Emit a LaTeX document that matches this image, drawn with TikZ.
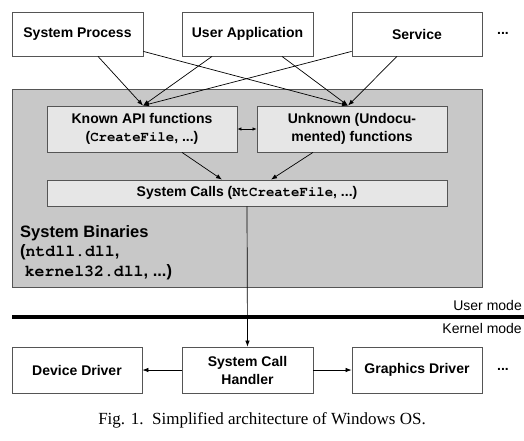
\documentclass[tikz,border=0pt]{standalone}
\usepackage{fontspec}
\setmainfont{Liberation Serif}
\setsansfont{Liberation Sans}
\setmonofont{TeX Gyre Cursor}
\usetikzlibrary{arrows.meta,calc}
\definecolor{outer}{HTML}{C8C8C8}
\definecolor{inner}{HTML}{E6E6E6}
\definecolor{edge}{HTML}{555555}
\tikzset{
  box/.style={draw=edge, line width=0.8pt, fill=white, inner sep=0pt, align=center,
    font=\sffamily\bfseries\fontsize{14}{18}\selectfont, minimum height=44pt},
  ibox/.style={box, fill=inner},
  arr/.style={line width=0.7pt, -{Latex[length=6pt,width=4.5pt]}},
  darr/.style={line width=0.7pt, {Latex[length=4pt,width=3.5pt]}-{Latex[length=4pt,width=3.5pt]}},
  dots/.style={font=\sffamily\bfseries\fontsize{14}{18}\selectfont},
  modetxt/.style={font=\sffamily\fontsize{14}{16}\selectfont, anchor=east, inner sep=0pt}
}
\begin{document}
\begin{tikzpicture}[x=1pt,y=-1pt]
\useasboundingbox (0,0) rectangle (524,440);
% top boxes
\node[box, minimum width=131pt] (sp) at (77.5,34) {System Process};
\node[box, minimum width=131pt] (ua) at (247.5,34) {User Application};
\node[box, minimum width=130pt] (sv) at (417,34) {Service};
\node[dots] (d1) at (503,33) {...};
% system binaries area
\node[draw=edge, line width=0.8pt, fill=outer, minimum width=470pt, minimum height=198pt, inner sep=0pt] (sb) at (247,188) {};
\node[ibox, minimum width=190pt, minimum height=46pt] (known) at (142,129) {Known API functions\\(\texttt{CreateFile}, ...)};
\node[ibox, minimum width=190pt, minimum height=46pt] (unk) at (352,129) {Unknown (Undocu-\\mented) functions};
\node[ibox, minimum width=400pt, minimum height=26pt] (sc) at (247,193) {System Calls (\texttt{NtCreateFile}, ...)};
\node[anchor=north west, inner sep=0pt, align=left, font=\sffamily\bfseries\fontsize{16.5}{19.5}\selectfont] (sbt) at (20,225)
  {System Binaries\\(\texttt{ntdll.dll},\\\hspace*{4.6pt}\texttt{kernel32.dll}, ...)};
% mode separator
\coordinate (ml) at (12,317);
\coordinate (mr) at (524,317);
\draw[line width=3.5pt] (ml) -- (mr);
\node[modetxt] (um) at (522,305) {User mode};
\node[modetxt] (km) at (522,328) {Kernel mode};
% bottom boxes
\node[box, minimum width=130pt, minimum height=46pt] (dd) at (77,370) {Device Driver};
\node[box, minimum width=131pt, minimum height=46pt] (sch) at (247.5,370) {System Call\\Handler};
\node[box, minimum width=130pt, minimum height=46pt] (gd) at (417,370) {Graphics Driver};
\node[dots] (d2) at (503,369) {...};
% caption
\node[font=\fontsize{17}{20}\selectfont, anchor=base, inner sep=0pt] (cap) at (262,424) {Fig. 1.\ \ Simplified architecture of Windows OS.};
% arrows
\draw[arr] ($(sp.south)+(20.5,0)$) -- ($(known.north)+(1,0)$);
\draw[arr] ($(sp.south east)+(0,-5)$) -- ($(unk.north)+(-4,0)$);
\draw[arr] ($(ua.south)+(-35.5,0)$) -- ($(known.north)+(1,0)$);
\draw[arr] ($(ua.south)+(34.5,0)$) -- ($(unk.north)+(-4,0)$);
\draw[arr] ($(sv.south west)+(0,-5)$) -- ($(known.north)+(1,0)$);
\draw[arr] ($(sv.south)+(-20,0)$) -- ($(unk.north)+(-4,0)$);
\draw[darr] (known.east) -- (unk.west);
\draw[arr] ($(known.south)+(40,0)$) -- ($(sc.north)+(-25,0)$);
\draw[arr] ($(unk.south)+(-39,0)$) -- ($(sc.north)+(24,0)$);
\draw[arr] (sc.south) -- (sch.north);
\draw[arr] (sch.west) -- (dd.east);
\draw[arr] (sch.east) -- (gd.west);
\end{tikzpicture}
\end{document}
